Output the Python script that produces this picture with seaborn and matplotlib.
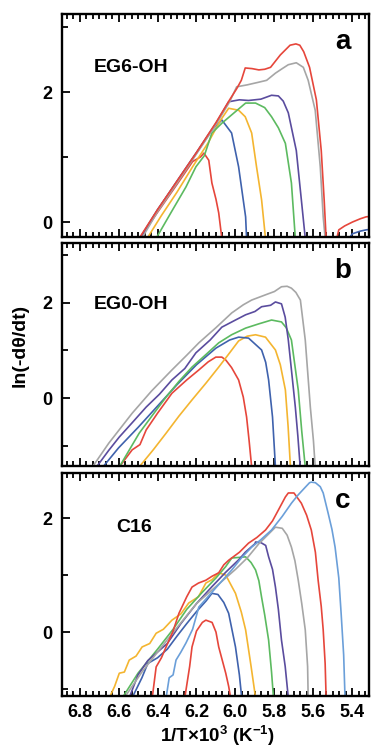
import matplotlib
matplotlib.use("Agg")
import matplotlib.pyplot as plt
from matplotlib.ticker import MultipleLocator, FixedLocator
import seaborn as sns
import pandas as pd

sns.set_style("ticks")
plt.rcParams['font.family'] = ['Liberation Sans', 'DejaVu Sans']
plt.rcParams['font.weight'] = 'bold'
plt.rcParams['mathtext.fontset'] = 'custom'
plt.rcParams['mathtext.rm'] = 'Liberation Sans:bold'
plt.rcParams['mathtext.bf'] = 'Liberation Sans:bold'
for k in ['text.color', 'axes.labelcolor', 'xtick.color', 'ytick.color', 'axes.edgecolor']:
    plt.rcParams[k] = 'black'

RED = "#e6463b"
GRAY = "#a6a6a6"
PURPLE = "#5a4c9e"
GREEN = "#5cba60"
ORANGE = "#f4b530"
BLUE = "#3f62ad"
LBLUE = "#6b9fd9"

# ---------------- panel a : EG6-OH ----------------
a_red1_x = [6.49, 6.40, 6.30, 6.22, 6.18, 6.162, 6.137, 6.121, 6.10, 6.086, 6.07]
a_red1_y = [-0.25, 0.15, 0.58, 0.93, 1.0, 1.06, 0.95, 0.60, 0.35, 0.14, -0.25]
a_blue_x = [6.49, 6.40, 6.30, 6.20, 6.12, 6.07, 6.02, 5.984, 5.948, 5.943]
a_blue_y = [-0.25, 0.19, 0.62, 1.06, 1.42, 1.57, 1.37, 0.85, 0.08, -0.25]
a_orange_x = [6.453, 6.38, 6.30, 6.22, 6.14, 6.08, 6.035, 5.984, 5.95, 5.917, 5.892, 5.866, 5.846]
a_orange_y = [-0.25, 0.10, 0.46, 0.85, 1.22, 1.55, 1.75, 1.72, 1.62, 1.37, 0.85, 0.34, -0.25]
a_green_x = [6.407, 6.33, 6.254, 6.203, 6.16, 6.121, 6.07, 6.019, 5.948, 5.897, 5.85, 5.815, 5.78, 5.744, 5.713, 5.693]
a_green_y = [-0.25, 0.15, 0.54, 0.85, 1.02, 1.37, 1.52, 1.65, 1.83, 1.83, 1.76, 1.62, 1.45, 1.21, 0.60, -0.25]
a_purple_x = [6.49, 6.40, 6.30, 6.20, 6.10, 6.035, 5.98, 5.933, 5.87, 5.815, 5.78, 5.755, 5.729, 5.688, 5.662, 5.642]
a_purple_y = [-0.25, 0.18, 0.63, 1.07, 1.52, 1.85, 1.88, 1.87, 1.89, 1.95, 1.94, 1.86, 1.68, 1.10, 0.34, -0.25]
a_gray_x = [6.48, 6.40, 6.30, 6.20, 6.10, 6.03, 5.994, 5.94, 5.882, 5.84, 5.795, 5.76, 5.729, 5.688, 5.652, 5.627, 5.591, 5.565, 5.55, 5.54]
a_gray_y = [-0.25, 0.16, 0.60, 1.05, 1.50, 1.85, 2.08, 2.11, 2.15, 2.18, 2.29, 2.36, 2.42, 2.45, 2.38, 2.18, 1.72, 0.85, 0.08, -0.25]
a_red2_x = [6.494, 6.40, 6.30, 6.20, 6.10, 6.03, 5.994, 5.97, 5.95, 5.915, 5.88, 5.85, 5.82, 5.77, 5.72, 5.69, 5.67, 5.65, 5.62, 5.585, 5.56, 5.545, 5.535, 5.52, 5.50, 5.47, 5.44, 5.40, 5.36, 5.33, 5.30]
a_red2_y = [-0.25, 0.19, 0.63, 1.07, 1.53, 1.88, 2.05, 2.18, 2.37, 2.36, 2.34, 2.35, 2.38, 2.57, 2.72, 2.74, 2.72, 2.62, 2.38, 1.88, 1.10, 0.34, -0.25, -0.6, -0.5, -0.12, -0.06, 0.0, 0.05, 0.08, 0.09]
a_blue2_x = [5.46, 5.43, 5.40, 5.36, 5.33, 5.30]
a_blue2_y = [-0.5, -0.3, -0.18, -0.14, -0.12, -0.11]

# ---------------- panel b : EG0-OH ----------------
b_red_x = [6.596, 6.53, 6.49, 6.458, 6.40, 6.326, 6.25, 6.188, 6.14, 6.101, 6.07, 6.05, 6.02, 5.984, 5.96, 5.943, 5.93, 5.917]
b_red_y = [-1.45, -1.09, -0.98, -0.67, -0.32, 0.10, 0.38, 0.59, 0.76, 0.86, 0.86, 0.80, 0.64, 0.38, 0.02, -0.40, -0.90, -1.45]
b_orange_x = [6.494, 6.42, 6.356, 6.29, 6.223, 6.15, 6.086, 6.03, 5.984, 5.94, 5.897, 5.846, 5.795, 5.77, 5.744, 5.73, 5.718]
b_orange_y = [-1.45, -1.08, -0.74, -0.38, -0.04, 0.32, 0.65, 0.95, 1.20, 1.30, 1.33, 1.28, 1.01, 0.70, 0.17, -0.60, -1.45]
b_blue_x = [6.68, 6.60, 6.50, 6.40, 6.30, 6.20, 6.10, 6.03, 5.984, 5.933, 5.866, 5.845, 5.83, 5.81, 5.795]
b_blue_y = [-1.45, -1.05, -0.62, -0.17, 0.28, 0.70, 1.05, 1.22, 1.28, 1.26, 1.01, 0.75, 0.38, -0.40, -1.45]
b_green_x = [6.596, 6.494, 6.42, 6.356, 6.29, 6.223, 6.15, 6.086, 6.02, 5.948, 5.88, 5.815, 5.764, 5.74, 5.713, 5.678, 5.66, 5.642]
b_green_y = [-1.45, -0.74, -0.33, 0.02, 0.35, 0.65, 0.92, 1.16, 1.33, 1.47, 1.56, 1.64, 1.60, 1.48, 1.22, 0.17, -0.70, -1.45]
b_purple_x = [6.713, 6.65, 6.596, 6.53, 6.458, 6.39, 6.326, 6.26, 6.203, 6.13, 6.07, 6.00, 5.948, 5.90, 5.866, 5.82, 5.795, 5.764, 5.745, 5.729, 5.693, 5.68, 5.668]
b_purple_y = [-1.45, -1.10, -0.82, -0.52, -0.19, 0.08, 0.38, 0.62, 0.95, 1.22, 1.49, 1.64, 1.75, 1.82, 1.92, 1.95, 2.02, 1.98, 1.70, 1.22, -0.19, -0.80, -1.45]
b_gray_x = [6.734, 6.65, 6.53, 6.43, 6.326, 6.25, 6.188, 6.10, 6.019, 5.96, 5.917, 5.846, 5.80, 5.764, 5.735, 5.713, 5.69, 5.667, 5.642, 5.616, 5.60, 5.591]
b_gray_y = [-1.45, -0.95, -0.32, 0.15, 0.59, 0.90, 1.16, 1.48, 1.79, 1.96, 2.06, 2.17, 2.24, 2.34, 2.35, 2.31, 2.22, 2.06, 1.22, -0.19, -0.90, -1.45]

# ---------------- panel c : C16 ----------------
c_red1_x = [6.26, 6.235, 6.223, 6.20, 6.17, 6.152, 6.12, 6.10, 6.086, 6.05, 6.035, 6.025]
c_red1_y = [-1.15, -0.60, -0.26, 0.02, 0.17, 0.21, 0.17, 0.00, -0.26, -0.72, -0.95, -1.15]
c_blue_x = [6.53, 6.48, 6.45, 6.40, 6.35, 6.30, 6.25, 6.20, 6.15, 6.121, 6.09, 6.06, 6.035, 6.00, 5.98, 5.968]
c_blue_y = [-1.15, -0.80, -0.55, -0.45, -0.30, -0.07, 0.15, 0.36, 0.55, 0.68, 0.66, 0.52, 0.33, -0.26, -0.75, -1.15]
c_orange_x = [6.647, 6.62, 6.596, 6.57, 6.545, 6.51, 6.479, 6.44, 6.407, 6.37, 6.326, 6.28, 6.24, 6.19, 6.152, 6.12, 6.086, 6.05, 6.00, 5.97, 5.948, 5.92, 5.897]
c_orange_y = [-1.15, -0.95, -0.72, -0.70, -0.49, -0.42, -0.26, -0.20, -0.02, 0.05, 0.21, 0.32, 0.51, 0.62, 0.86, 0.92, 1.04, 1.00, 0.68, 0.35, 0.04, -0.60, -1.15]
c_green_x = [6.58, 6.50, 6.40, 6.32, 6.25, 6.17, 6.10, 6.05, 6.019, 5.98, 5.948, 5.92, 5.897, 5.88, 5.866, 5.85, 5.83, 5.815, 5.805]
c_green_y = [-1.15, -0.72, -0.30, 0.05, 0.40, 0.70, 0.95, 1.15, 1.30, 1.31, 1.32, 1.22, 1.09, 0.90, 0.61, 0.30, -0.14, -0.70, -1.15]
c_purple_x = [6.545, 6.50, 6.45, 6.40, 6.35, 6.28, 6.20, 6.12, 6.05, 5.98, 5.95, 5.90, 5.897, 5.87, 5.845, 5.83, 5.81, 5.795, 5.78, 5.764, 5.745, 5.729]
c_purple_y = [-1.15, -0.75, -0.50, -0.35, -0.20, 0.15, 0.50, 0.80, 1.05, 1.28, 1.40, 1.55, 1.58, 1.57, 1.52, 1.32, 1.10, 0.79, 0.40, -0.14, -0.60, -1.15]
c_gray_x = [6.57, 6.48, 6.40, 6.30, 6.20, 6.10, 6.00, 5.94, 5.88, 5.83, 5.795, 5.76, 5.735, 5.713, 5.695, 5.678, 5.66, 5.642, 5.63, 5.627]
c_gray_y = [-1.15, -0.70, -0.35, 0.08, 0.50, 0.80, 1.10, 1.30, 1.55, 1.72, 1.84, 1.82, 1.70, 1.49, 1.25, 0.91, 0.50, 0.04, -0.60, -1.15]
c_red2_x = [6.427, 6.407, 6.38, 6.356, 6.32, 6.29, 6.25, 6.223, 6.19, 6.152, 6.12, 6.086, 6.06, 6.035, 5.98, 5.933, 5.89, 5.846, 5.81, 5.78, 5.744, 5.729, 5.70, 5.662, 5.635, 5.611, 5.59, 5.576, 5.56, 5.55, 5.54, 5.535]
c_red2_y = [-1.15, -0.61, -0.45, -0.26, 0.02, 0.33, 0.62, 0.79, 0.86, 0.91, 0.98, 1.04, 1.18, 1.26, 1.40, 1.56, 1.66, 1.79, 1.95, 2.14, 2.37, 2.44, 2.44, 2.26, 2.05, 1.79, 1.40, 0.91, 0.45, 0.04, -0.55, -1.15]
c_lblue_x = [6.356, 6.34, 6.32, 6.305, 6.28, 6.254, 6.22, 6.188, 6.10, 6.019, 5.97, 5.917, 5.87, 5.815, 5.76, 5.713, 5.68, 5.642, 5.62, 5.611, 5.59, 5.565, 5.55, 5.525, 5.505, 5.489, 5.47, 5.458, 5.445, 5.438]
c_lblue_y = [-1.15, -0.80, -0.75, -0.49, -0.35, -0.19, 0.05, 0.44, 0.78, 1.09, 1.30, 1.49, 1.62, 1.79, 2.03, 2.26, 2.40, 2.54, 2.62, 2.63, 2.62, 2.55, 2.44, 2.09, 1.80, 1.49, 0.95, 0.33, -0.40, -1.15]

panels = [
    dict(curves=[(a_red1_x, a_red1_y, RED), (a_blue_x, a_blue_y, BLUE), (a_orange_x, a_orange_y, ORANGE),
                 (a_green_x, a_green_y, GREEN), (a_purple_x, a_purple_y, PURPLE), (a_gray_x, a_gray_y, GRAY),
                 (a_red2_x, a_red2_y, RED), (a_blue2_x, a_blue2_y, BLUE)],
         ylim=(-0.23, 3.2), name="EG6-OH", letter="a", top=14, bottom=237, name_xy=(94, 67)),
    dict(curves=[(b_red_x, b_red_y, RED), (b_orange_x, b_orange_y, ORANGE), (b_blue_x, b_blue_y, BLUE),
                 (b_green_x, b_green_y, GREEN), (b_purple_x, b_purple_y, PURPLE), (b_gray_x, b_gray_y, GRAY)],
         ylim=(-1.43, 3.26), name="EG0-OH", letter="b", top=243, bottom=466, name_xy=(94, 305)),
    dict(curves=[(c_red1_x, c_red1_y, RED), (c_blue_x, c_blue_y, BLUE), (c_orange_x, c_orange_y, ORANGE),
                 (c_green_x, c_green_y, GREEN), (c_purple_x, c_purple_y, PURPLE), (c_gray_x, c_gray_y, GRAY),
                 (c_red2_x, c_red2_y, RED), (c_lblue_x, c_lblue_y, LBLUE)],
         ylim=(-1.12, 2.79), name="C16", letter="c", top=473, bottom=696, name_xy=(116, 527)),
]

W, H = 371, 751
fig = plt.figure(figsize=(W / 100, H / 100), dpi=100)
left, right = 62, 369

for i, p in enumerate(panels):
    ax = fig.add_axes([left / W, (H - p["bottom"]) / H, (right - left) / W, (p["bottom"] - p["top"]) / H])
    for x, y, col in p["curves"]:
        df = pd.DataFrame({"x": x, "y": y})
        sns.lineplot(data=df, x="x", y="y", sort=False, estimator=None, color=col, lw=1.2, ax=ax)
    ax.set_xlim(6.89, 5.315)
    ax.set_ylim(*p["ylim"])
    ax.xaxis.set_major_locator(MultipleLocator(0.2))
    ax.xaxis.set_minor_locator(MultipleLocator(0.2 / 6))
    ax.yaxis.set_major_locator(FixedLocator([0, 2]))
    ax.yaxis.set_minor_locator(FixedLocator([-1, 1, 3]))
    ax.tick_params(axis="x", which="both", direction="in", top=True, bottom=True, width=1.3, color="black")
    ax.tick_params(axis="x", which="major", length=6)
    ax.tick_params(axis="x", which="minor", length=3.5)
    ax.tick_params(axis="y", which="both", direction="in", left=True, right=False, width=1.3, color="black")
    ax.tick_params(axis="y", which="major", length=6, labelsize=13, pad=7)
    ax.tick_params(axis="y", which="minor", length=4)
    for s in ax.spines.values():
        s.set_linewidth(1.7)
        s.set_color("black")
    ax.set_xlabel("")
    ax.set_ylabel("")
    if i < 2:
        ax.tick_params(axis="x", labelbottom=False)
    else:
        ax.tick_params(axis="x", which="major", labelsize=13, pad=6)
    for lab in ax.get_xticklabels() + ax.get_yticklabels():
        lab.set_fontweight("bold")
        lab.set_color("black")
    fig.text(p["name_xy"][0] / W, 1 - p["name_xy"][1] / H, p["name"], fontsize=14, fontweight="bold",
             ha="left", va="center", color="black")
    fig.text(343 / W, 1 - (p["top"] + 28) / H, p["letter"], fontsize=20, fontweight="bold",
             ha="center", va="center", color="black")

fig.text(20 / W, 1 - 345 / H, "ln(-dθ/dt)", rotation=90, fontsize=14, fontweight="bold",
         ha="center", va="center", color="black")
fig.text(217 / W, 1 - 736 / H, r"1/T×10$^{\mathbf{3}}$ (K$^{\mathbf{-1}}$)", fontsize=13.5,
         fontweight="bold", ha="center", va="center", color="black")

fig.savefig("out.png", dpi=100, facecolor="white")
